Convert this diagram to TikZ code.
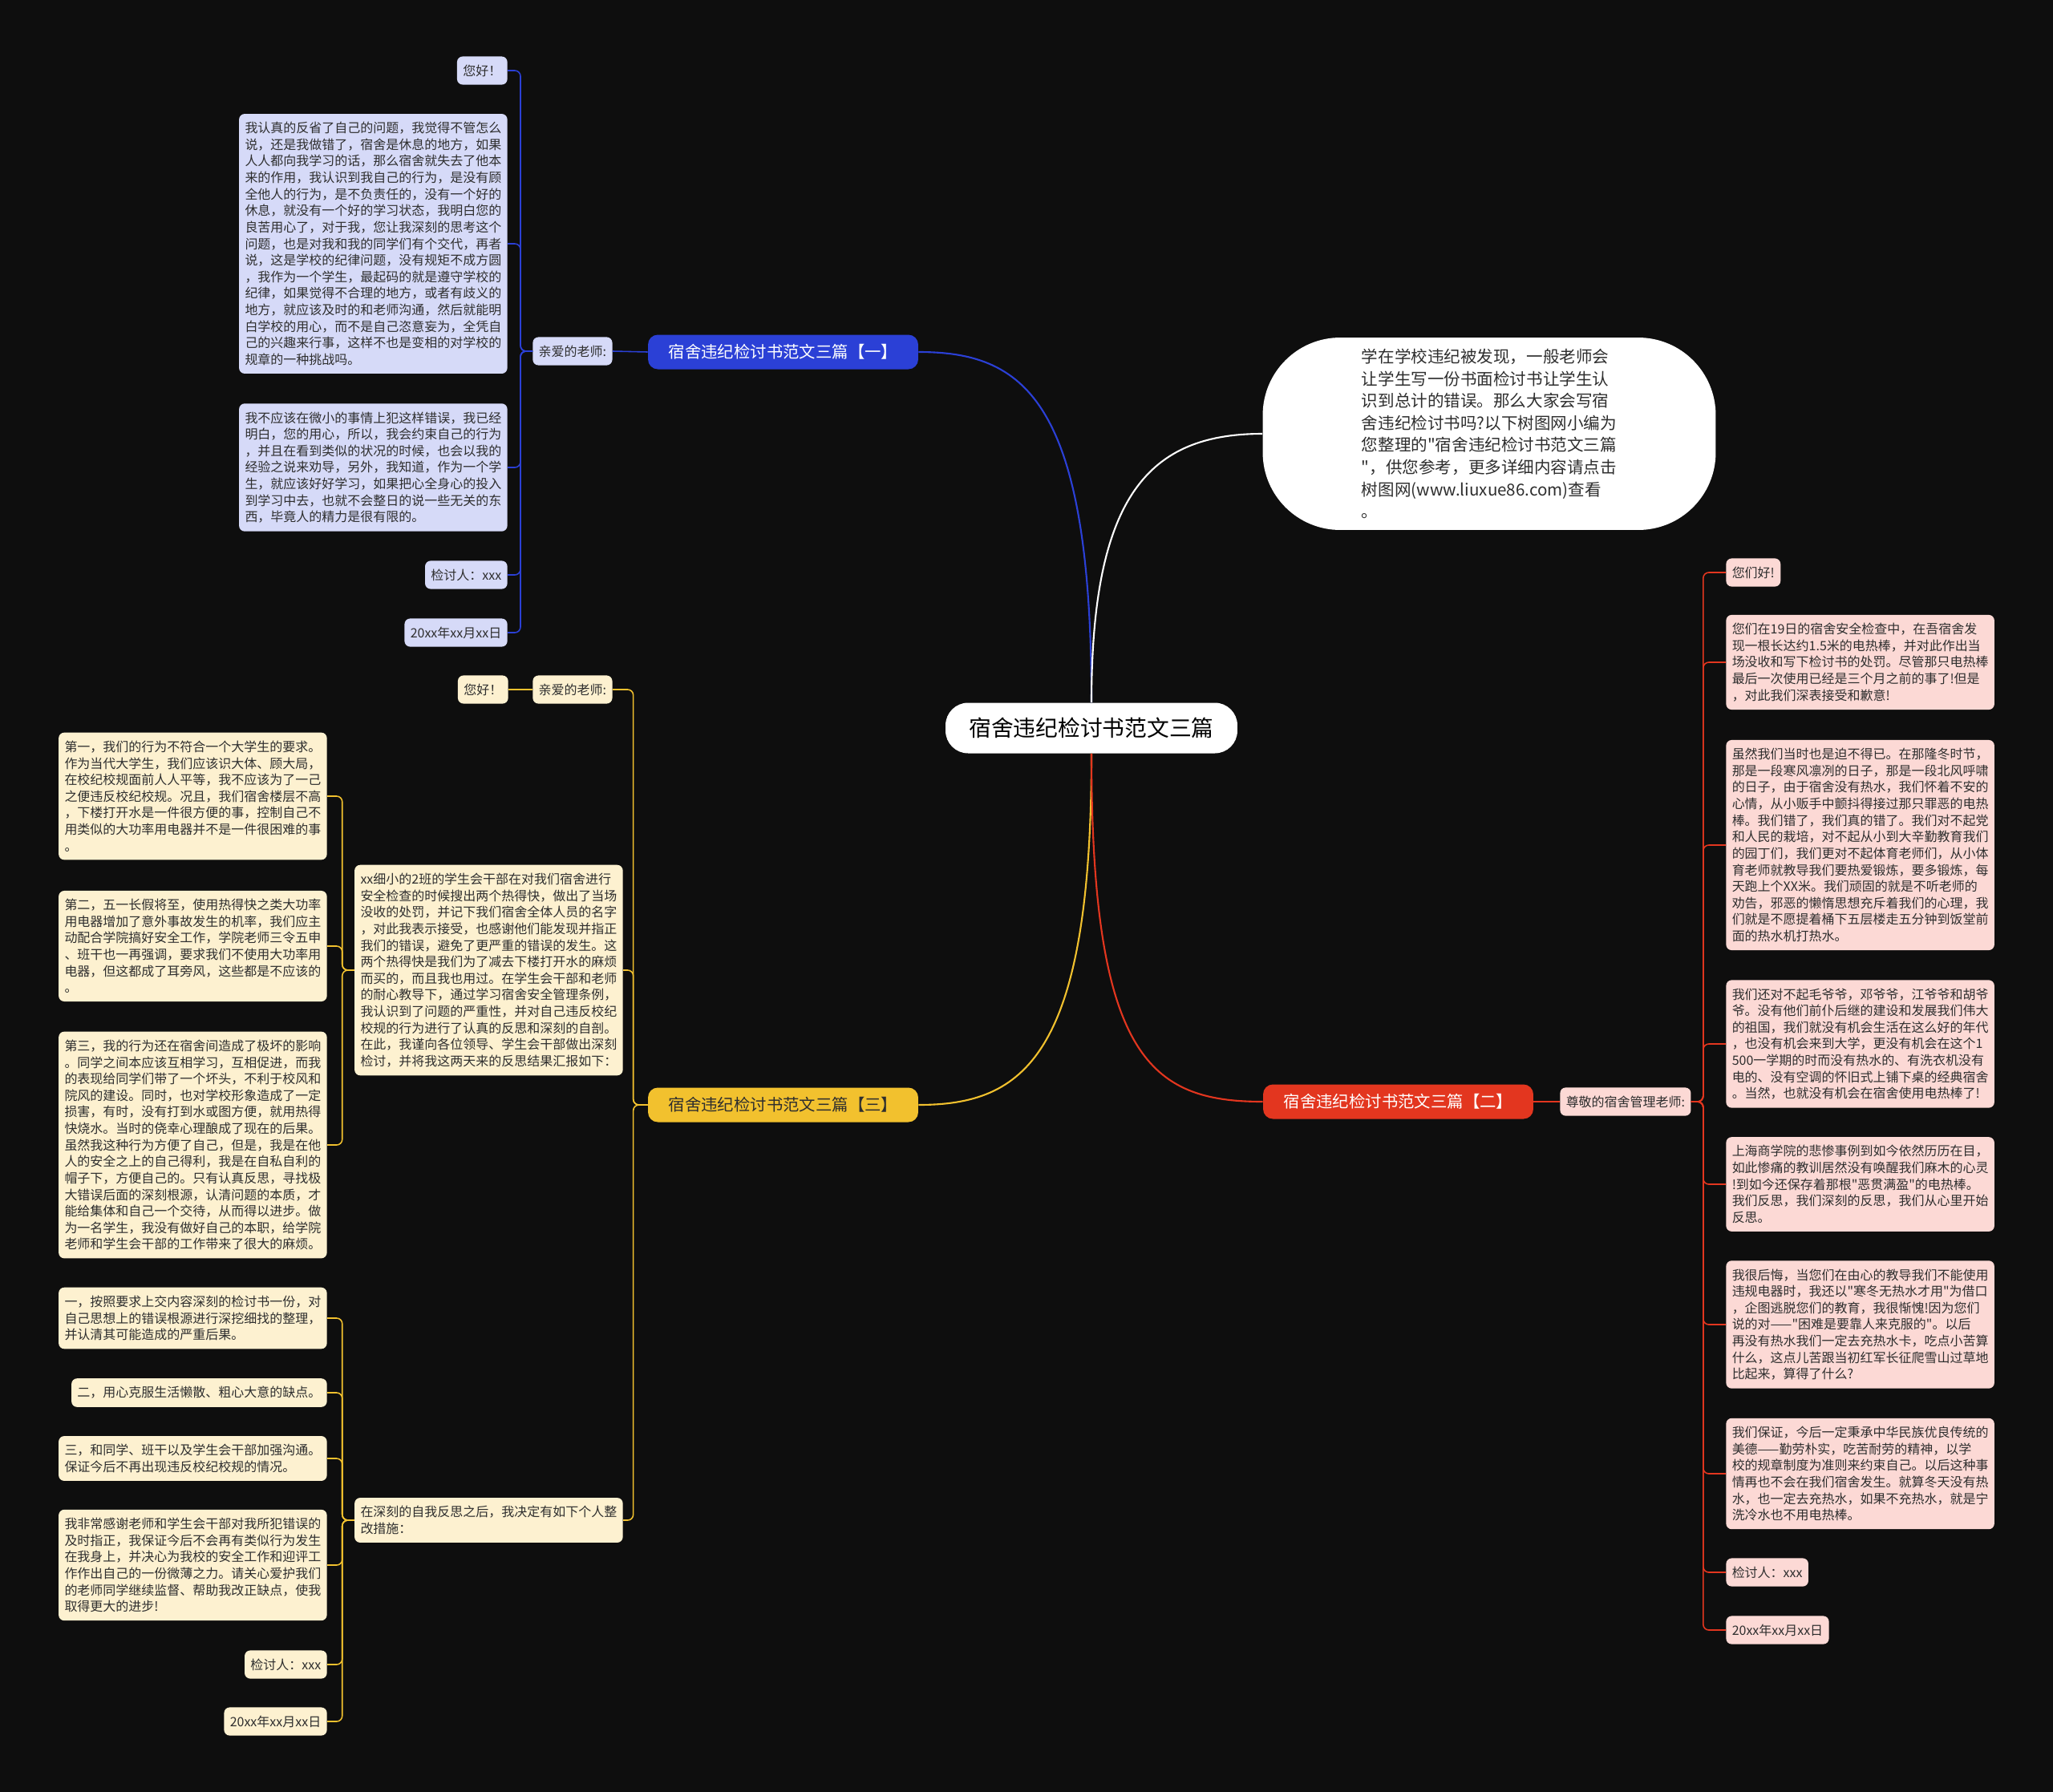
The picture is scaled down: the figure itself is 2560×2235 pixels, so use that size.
\documentclass[tikz,border=0pt]{standalone}
\usepackage{fontspec}
\setmainfont{Noto Sans CJK SC}[Ligatures=TeXOff]
\usepackage{xcolor}

\definecolor{bgdark}{HTML}{0E0E0E}
\definecolor{inkdark}{HTML}{2E2E2E}
\definecolor{lineblue}{HTML}{2B40D6}
\definecolor{lineyellow}{HTML}{F2C12E}
\definecolor{linered}{HTML}{E3361F}
\definecolor{fillblue}{HTML}{D6DAF8}
\definecolor{fillyellow}{HTML}{FDF1D0}
\definecolor{fillred}{HTML}{FCD9D5}

\newcommand{\notefont}{\fontsize{9.1pt}{11.74pt}\selectfont}
\newcommand{\branchfont}{\fontsize{11.6pt}{14pt}\selectfont}
\newcommand{\rootfont}{\fontsize{15.8pt}{19pt}\selectfont}
\newcommand{\introfont}{\fontsize{11.7pt}{15.7pt}\selectfont}

\begin{document}
\begin{tikzpicture}[x=0.02cm, y=-0.02cm,
    rootbox/.style={rounded corners=16pt, fill=white, text=black, font=\rootfont,
      minimum width=7.28cm, minimum height=1.26cm},
    branchbox/.style={rounded corners=7pt, font=\branchfont,
      minimum width=6.74cm, minimum height=0.86cm},
    bluebranch/.style={branchbox, fill=lineblue, text=white},
    yellowbranch/.style={branchbox, fill=lineyellow, text=inkdark},
    redbranch/.style={branchbox, fill=linered, text=white},
    introbubble/.style={rounded corners=55pt, fill=white, text=inkdark, font=\introfont,
      align=left, minimum width=11.3cm, minimum height=4.8cm},
    note/.style={rounded corners=4pt, inner xsep=4.2pt, inner ysep=5.8pt,
      align=left, text=inkdark, font=\notefont},
    bluenote/.style={note, fill=fillblue},
    yellownote/.style={note, fill=fillyellow},
    rednote/.style={note, fill=fillred},
    wire/.style={line width=1.2pt},
    twig/.style={line width=0.9pt, rounded corners=4pt}]

  % 背景
  \fill[bgdark] (0,0) rectangle (2560,2235);
  \useasboundingbox (0,0) rectangle (2560,2235);

  % 中心主题与说明
  \node[rootbox] (root) at (1361,908) {宿舍违纪检讨书范文三篇};
  \node[introbubble] (intro) at (1857,541) {学在学校违纪被发现，一般老师会\\
    让学生写一份书面检讨书让学生认\\
    识到总计的错误。那么大家会写宿\\
    舍违纪检讨书吗?以下树图网小编为\\
    您整理的"宿舍违纪检讨书范文三篇\\
    "，供您参考，更多详细内容请点击\\
    树图网(www.liuxue86.com)查看\\
    。};

  % 三个分支
  \node[bluebranch] (bone) at (976.5,439) {宿舍违纪检讨书范文三篇【一】};
  \node[yellowbranch] (bthree) at (976.5,1378) {宿舍违纪检讨书范文三篇【三】};
  \node[redbranch] (btwo) at (1743.5,1374) {宿舍违纪检讨书范文三篇【二】};

  % 第一篇
  \node[bluenote, anchor=west] (bdear) at (664,438) {亲爱的老师:};
  \node[bluenote, anchor=east] (bhello) at (633,88) {您好！};
  \node[bluenote, anchor=east] (btxta) at (633,304) {我认真的反省了自己的问题，我觉得不管怎么\\
    说，还是我做错了，宿舍是休息的地方，如果\\
    人人都向我学习的话，那么宿舍就失去了他本\\
    来的作用，我认识到我自己的行为，是没有顾\\
    全他人的行为，是不负责任的，没有一个好的\\
    休息，就没有一个好的学习状态，我明白您的\\
    良苦用心了，对于我，您让我深刻的思考这个\\
    问题，也是对我和我的同学们有个交代，再者\\
    说，这是学校的纪律问题，没有规矩不成方圆\\
    ，我作为一个学生，最起码的就是遵守学校的\\
    纪律，如果觉得不合理的地方，或者有歧义的\\
    地方，就应该及时的和老师沟通，然后就能明\\
    白学校的用心，而不是自己恣意妄为，全凭自\\
    己的兴趣来行事，这样不也是变相的对学校的\\
    规章的一种挑战吗。};
  \node[bluenote, anchor=east] (btxtb) at (633,583) {我不应该在微小的事情上犯这样错误，我已经\\
    明白，您的用心，所以，我会约束自己的行为\\
    ，并且在看到类似的状况的时候，也会以我的\\
    经验之说来劝导，另外，我知道，作为一个学\\
    生，就应该好好学习，如果把心全身心的投入\\
    到学习中去，也就不会整日的说一些无关的东\\
    西，毕竟人的精力是很有限的。};
  \node[bluenote, anchor=east] (bsign) at (633,717) {检讨人：xxx};
  \node[bluenote, anchor=east] (bdate) at (633,789) {20xx年xx月xx日};

  % 第三篇
  \node[yellownote, anchor=west] (ydear) at (664,860) {亲爱的老师:};
  \node[yellownote, anchor=east] (yhello) at (634,860) {您好！};
  \node[yellownote, anchor=east] (yintro) at (777,1210) {xx细小的2班的学生会干部在对我们宿舍进行\\
    安全检查的时候搜出两个热得快，做出了当场\\
    没收的处罚，并记下我们宿舍全体人员的名字\\
    ，对此我表示接受，也感谢他们能发现并指正\\
    我们的错误，避免了更严重的错误的发生。这\\
    两个热得快是我们为了减去下楼打开水的麻烦\\
    而买的，而且我也用过。在学生会干部和老师\\
    的耐心教导下，通过学习宿舍安全管理条例，\\
    我认识到了问题的严重性，并对自己违反校纪\\
    校规的行为进行了认真的反思和深刻的自剖。\\
    在此，我谨向各位领导、学生会干部做出深刻\\
    检讨，并将我这两天来的反思结果汇报如下：};
  \node[yellownote, anchor=east] (ymeasure) at (777,1896) {在深刻的自我反思之后，我决定有如下个人整\\
    改措施：};
  \node[yellownote, anchor=east] (yfirst) at (408,993) {第一，我们的行为不符合一个大学生的要求。\\
    作为当代大学生，我们应该识大体、顾大局，\\
    在校纪校规面前人人平等，我不应该为了一己\\
    之便违反校纪校规。况且，我们宿舍楼层不高\\
    ，下楼打开水是一件很方便的事，控制自己不\\
    用类似的大功率用电器并不是一件很困难的事\\
    。};
  \node[yellownote, anchor=east] (ysecond) at (408,1180) {第二，五一长假将至，使用热得快之类大功率\\
    用电器增加了意外事故发生的机率，我们应主\\
    动配合学院搞好安全工作，学院老师三令五申\\
    、班干也一再强调，要求我们不使用大功率用\\
    电器，但这都成了耳旁风，这些都是不应该的\\
    。};
  \node[yellownote, anchor=east] (ythird) at (408,1428) {第三，我的行为还在宿舍间造成了极坏的影响\\
    。同学之间本应该互相学习，互相促进，而我\\
    的表现给同学们带了一个坏头，不利于校风和\\
    院风的建设。同时，也对学校形象造成了一定\\
    损害，有时，没有打到水或图方便，就用热得\\
    快烧水。当时的侥幸心理酿成了现在的后果。\\
    虽然我这种行为方便了自己，但是，我是在他\\
    人的安全之上的自己得利，我是在自私自利的\\
    帽子下，方便自己的。只有认真反思，寻找极\\
    大错误后面的深刻根源，认清问题的本质，才\\
    能给集体和自己一个交待，从而得以进步。做\\
    为一名学生，我没有做好自己的本职，给学院\\
    老师和学生会干部的工作带来了很大的麻烦。};
  \node[yellownote, anchor=east] (yone) at (408,1644) {一，按照要求上交内容深刻的检讨书一份，对\\
    自己思想上的错误根源进行深挖细找的整理，\\
    并认清其可能造成的严重后果。};
  \node[yellownote, anchor=east] (ytwo) at (408,1737) {二，用心克服生活懒散、粗心大意的缺点。};
  \node[yellownote, anchor=east] (ythree) at (408,1819) {三，和同学、班干以及学生会干部加强沟通。\\
    保证今后不再出现违反校纪校规的情况。};
  \node[yellownote, anchor=east] (ythanks) at (408,1952) {我非常感谢老师和学生会干部对我所犯错误的\\
    及时指正，我保证今后不会再有类似行为发生\\
    在我身上，并决心为我校的安全工作和迎评工\\
    作作出自己的一份微薄之力。请关心爱护我们\\
    的老师同学继续监督、帮助我改正缺点，使我\\
    取得更大的进步!};
  \node[yellownote, anchor=east] (ysign) at (408,2076) {检讨人：xxx};
  \node[yellownote, anchor=east] (ydate) at (408,2147) {20xx年xx月xx日};

  % 第二篇
  \node[rednote, anchor=west] (rdear) at (1945,1374) {尊敬的宿舍管理老师:};
  \node[rednote, anchor=west] (rhello) at (2152,714) {您们好!};
  \node[rednote, anchor=west] (rfound) at (2152,826) {您们在19日的宿舍安全检查中，在吾宿舍发\\
    现一根长达约1.5米的电热棒，并对此作出当\\
    场没收和写下检讨书的处罚。尽管那只电热棒\\
    最后一次使用已经是三个月之前的事了!但是\\
    ，对此我们深表接受和歉意!};
  \node[rednote, anchor=west] (rforced) at (2152,1054) {虽然我们当时也是迫不得已。在那隆冬时节，\\
    那是一段寒风凛冽的日子，那是一段北风呼啸\\
    的日子，由于宿舍没有热水，我们怀着不安的\\
    心情，从小贩手中颤抖得接过那只罪恶的电热\\
    棒。我们错了，我们真的错了。我们对不起党\\
    和人民的栽培，对不起从小到大辛勤教育我们\\
    的园丁们，我们更对不起体育老师们，从小体\\
    育老师就教导我们要热爱锻炼，要多锻炼，每\\
    天跑上个XX米。我们顽固的就是不听老师的\\
    劝告，邪恶的懒惰思想充斥着我们的心理，我\\
    们就是不愿提着桶下五层楼走五分钟到饭堂前\\
    面的热水机打热水。};
  \node[rednote, anchor=west] (rsorry) at (2152,1302) {我们还对不起毛爷爷，邓爷爷，江爷爷和胡爷\\
    爷。没有他们前仆后继的建设和发展我们伟大\\
    的祖国，我们就没有机会生活在这么好的年代\\
    ，也没有机会来到大学，更没有机会在这个1\\
    500一学期的时而没有热水的、有洗衣机没有\\
    电的、没有空调的怀旧式上铺下桌的经典宿舍\\
    。当然，也就没有机会在宿舍使用电热棒了!};
  \node[rednote, anchor=west] (rshanghai) at (2152,1477) {上海商学院的悲惨事例到如今依然历历在目，\\
    如此惨痛的教训居然没有唤醒我们麻木的心灵\\
    !到如今还保存着那根"恶贯满盈"的电热棒。\\
    我们反思，我们深刻的反思，我们从心里开始\\
    反思。};
  \node[rednote, anchor=west] (rregret) at (2152,1652) {我很后悔，当您们在由心的教导我们不能使用\\
    违规电器时，我还以"寒冬无热水才用"为借口\\
    ，企图逃脱您们的教育，我很惭愧!因为您们\\
    说的对——"困难是要靠人来克服的"。以后\\
    再没有热水我们一定去充热水卡，吃点小苦算\\
    什么，这点儿苦跟当初红军长征爬雪山过草地\\
    比起来，算得了什么?};
  \node[rednote, anchor=west] (rpromise) at (2152,1838) {我们保证，今后一定秉承中华民族优良传统的\\
    美德——勤劳朴实，吃苦耐劳的精神，以学\\
    校的规章制度为准则来约束自己。以后这种事\\
    情再也不会在我们宿舍发生。就算冬天没有热\\
    水，也一定去充热水，如果不充热水，就是宁\\
    洗冷水也不用电热棒。};
  \node[rednote, anchor=west] (rsign) at (2152,1961) {检讨人：xxx};
  \node[rednote, anchor=west] (rdate) at (2152,2033) {20xx年xx月xx日};

  % 主干连线
  \draw[wire, lineblue] (root.north) .. controls +(0,-380) and +(130,0) .. (bone.east);
  \draw[wire, white] (root.north) .. controls +(0,-260) and +(-140,0) .. (intro.west);
  \draw[wire, lineyellow] (root.south) .. controls +(0,380) and +(130,0) .. (bthree.east);
  \draw[wire, linered] (root.south) .. controls +(0,380) and +(-140,0) .. (btwo.west);

  % 第一篇连线
  \draw[twig, lineblue] (bone.west) -- (bdear.east);
  \draw[twig, lineblue] (bdear.west) -- ++(-15,0) |- (bhello.east);
  \draw[twig, lineblue] (bdear.west) -- ++(-15,0) |- (btxta.east);
  \draw[twig, lineblue] (bdear.west) -- ++(-15,0) |- (btxtb.east);
  \draw[twig, lineblue] (bdear.west) -- ++(-15,0) |- (bsign.east);
  \draw[twig, lineblue] (bdear.west) -- ++(-15,0) |- (bdate.east);

  % 第三篇连线
  \draw[twig, lineyellow] (bthree.west) -- ++(-18,0) |- (ydear.east);
  \draw[twig, lineyellow] (bthree.west) -- ++(-18,0) |- (yintro.east);
  \draw[twig, lineyellow] (bthree.west) -- ++(-18,0) |- (ymeasure.east);
  \draw[twig, lineyellow] (ydear.west) -- (yhello.east);
  \draw[twig, lineyellow] (yintro.west) -- ++(-15,0) |- (yfirst.east);
  \draw[twig, lineyellow] (yintro.west) -- ++(-15,0) |- (ysecond.east);
  \draw[twig, lineyellow] (yintro.west) -- ++(-15,0) |- (ythird.east);
  \draw[twig, lineyellow] (ymeasure.west) -- ++(-15,0) |- (yone.east);
  \draw[twig, lineyellow] (ymeasure.west) -- ++(-15,0) |- (ytwo.east);
  \draw[twig, lineyellow] (ymeasure.west) -- ++(-15,0) |- (ythree.east);
  \draw[twig, lineyellow] (ymeasure.west) -- ++(-15,0) |- (ythanks.east);
  \draw[twig, lineyellow] (ymeasure.west) -- ++(-15,0) |- (ysign.east);
  \draw[twig, lineyellow] (ymeasure.west) -- ++(-15,0) |- (ydate.east);

  % 第二篇连线
  \draw[twig, linered] (btwo.east) -- (rdear.west);
  \draw[twig, linered] (rdear.east) -- ++(15,0) |- (rhello.west);
  \draw[twig, linered] (rdear.east) -- ++(15,0) |- (rfound.west);
  \draw[twig, linered] (rdear.east) -- ++(15,0) |- (rforced.west);
  \draw[twig, linered] (rdear.east) -- ++(15,0) |- (rsorry.west);
  \draw[twig, linered] (rdear.east) -- ++(15,0) |- (rshanghai.west);
  \draw[twig, linered] (rdear.east) -- ++(15,0) |- (rregret.west);
  \draw[twig, linered] (rdear.east) -- ++(15,0) |- (rpromise.west);
  \draw[twig, linered] (rdear.east) -- ++(15,0) |- (rsign.west);
  \draw[twig, linered] (rdear.east) -- ++(15,0) |- (rdate.west);
\end{tikzpicture}
\end{document}
